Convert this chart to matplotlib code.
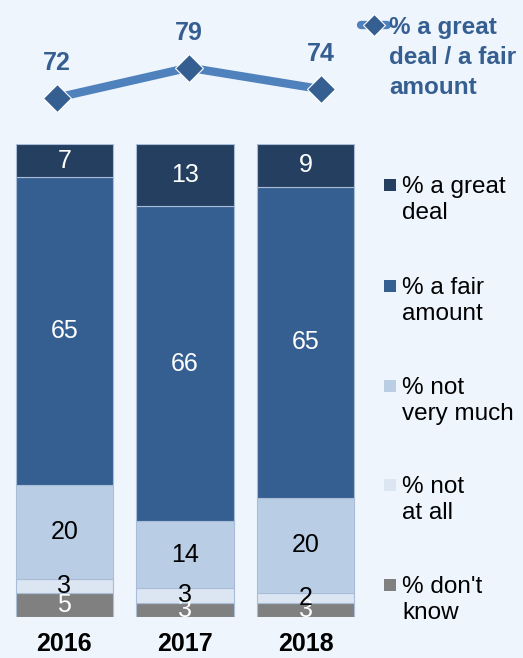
import matplotlib
matplotlib.use("Agg")
import matplotlib.pyplot as plt
from matplotlib.patches import Rectangle
from matplotlib.lines import Line2D
import numpy as np

plt.rcParams['font.family'] = ['Liberation Sans', 'DejaVu Sans']

years = ["2016", "2017", "2018"]
great_deal = [7, 13, 9]
fair_amount = [65, 66, 65]
not_very_much = [20, 14, 20]
not_at_all = [3, 3, 2]
dont_know = [5, 3, 3]
combined = [72, 79, 74]

series_names = ["% don't\nknow", "% not\nat all", "% not\nvery much", "% a fair\namount", "% a great\ndeal"]
series_vals = [dont_know, not_at_all, not_very_much, fair_amount, great_deal]
colors = ["#808080", "#DCE6F2", "#B9CDE5", "#365F91", "#243F60"]
label_colors = ["white", "black", "black", "white", "white"]
line_label = "% a great\ndeal / a fair\namount"

BG = "#EEF5FD"
W, H = 523, 658
fig = plt.figure(figsize=(W / 100, H / 100), dpi=100, facecolor=BG)

def fx(px):
    return px / W

def fy(py):
    return 1 - py / H

# ---- stacked bars (100% stacked) ----
ax = fig.add_axes([fx(4), fy(617), fx(366) - fx(4), fy(144) - fy(617)])
ax.set_facecolor(BG)
x = np.arange(len(years))
vals = np.array(series_vals, dtype=float)
totals = vals.sum(axis=0)
pct = vals / totals * 100
bottom = np.zeros(len(years))
for i, (name, col) in enumerate(zip(series_names, colors)):
    ax.bar(x, pct[i], 0.805, bottom=bottom, color=col, edgecolor="#A9BDD8", linewidth=0.8)
    for j in range(len(years)):
        ax.text(x[j], bottom[j] + pct[i][j] / 2, str(series_vals[i][j]),
                ha="center", va="center", fontsize=18, color=label_colors[i])
    bottom += pct[i]
ax.set_xlim(-0.5, 2.5)
ax.set_ylim(0, 100)
ax.set_xticks(x)
ax.set_xticklabels(years, fontsize=18, fontweight="bold")
ax.tick_params(axis="x", length=0, pad=11)
ax.set_yticks([])
for s in ax.spines.values():
    s.set_visible(False)

# ---- line chart ----
lax = fig.add_axes([fx(4), fy(120), fx(366) - fx(4), fy(20) - fy(120)])
lax.set_facecolor("none")
lax.plot(x, combined, color="#4F81BD", linewidth=6, marker="D", markersize=14,
         markerfacecolor="#365F91", markeredgecolor="white", markeredgewidth=0.8,
         solid_capstyle="butt")
for j in range(len(years)):
    lax.annotate(str(combined[j]), (x[j], combined[j]), xytext=(0, 25),
                 textcoords="offset points", ha="center", va="center",
                 fontsize=18, fontweight="bold", color="#365F91")
lax.set_xlim(-0.4, 2.343)
lax.set_ylim(66.8, 90.1)
lax.axis("off")

# ---- line legend ----
fig.add_artist(Line2D([fx(361), fx(387)], [fy(25), fy(25)], color="#4F81BD", linewidth=6,
                      transform=fig.transFigure, solid_capstyle="round"))
fig.add_artist(Line2D([fx(374)], [fy(25)], marker="D", markersize=11, markerfacecolor="#365F91",
                      markeredgecolor="white", markeredgewidth=0.8, transform=fig.transFigure))
fig.text(fx(389), fy(16), line_label, ha="left", va="top", fontsize=17.5, fontweight="bold",
         color="#365F91", linespacing=1.38)

# ---- bar legend ----
leg_y = [185, 286, 386, 485, 585]
for k, idx in enumerate([4, 3, 2, 1, 0]):
    yc = leg_y[k]
    fig.add_artist(Rectangle((fx(383.5), fy(yc + 6)), fx(12), 12 / H, facecolor=colors[idx],
                             edgecolor="none", transform=fig.transFigure))
    fig.text(fx(402), fy(yc - 9), series_names[idx], ha="left", va="top", fontsize=17.5,
             color="black", linespacing=1.24)

fig.savefig("out.png", dpi=100, facecolor=BG)
